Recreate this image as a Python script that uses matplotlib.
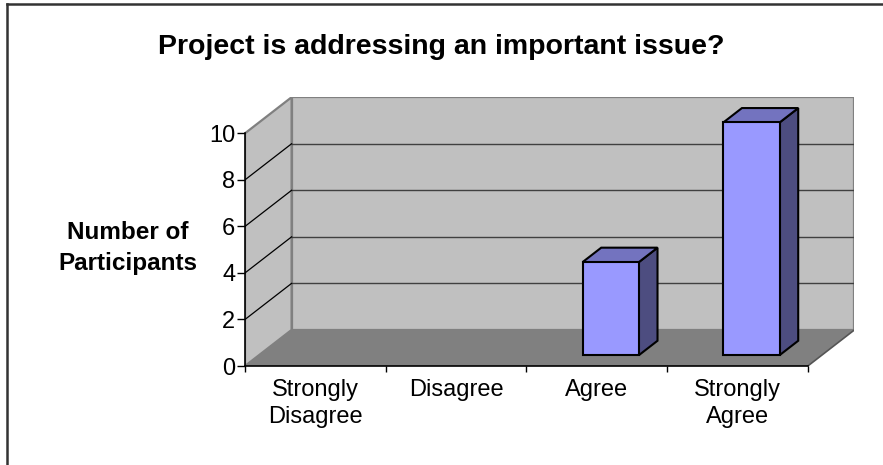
import matplotlib
matplotlib.use("Agg")
import matplotlib.pyplot as plt
from matplotlib.patches import Polygon
from matplotlib.lines import Line2D

plt.rcParams["font.family"] = ["Liberation Sans", "DejaVu Sans"]

# Survey data
categories = ["Strongly\nDisagree", "Disagree", "Agree", "Strongly\nAgree"]
counts = [0, 0, 4, 10]
y_ticks = [0, 2, 4, 6, 8, 10]
title = "Project is addressing an important issue?"
y_label = "Number of\nParticipants"

# oblique 3-D look: depth offset in data units
DX, DY = 0.331, 1.55
YMAX = 10
BAR_W = 0.4
D0, D1 = 0.3, 0.7

W, H = 883, 465
fig = plt.figure(figsize=(W / 100, H / 100), dpi=100)

x_left, x_right = 245, 854.4
y_zero = 366
px_per_unit = 23.27
y_top = y_zero - (YMAX + DY) * px_per_unit
ax = fig.add_axes([x_left / W, (H - y_zero) / H,
                   (x_right - x_left) / W, (y_zero - y_top) / H])
n = len(categories)
ax.set_xlim(0, n + DX)
ax.set_ylim(0, YMAX + DY)
for s in ax.spines.values():
    s.set_visible(False)
ax.patch.set_visible(False)

wall_c = "#C0C0C0"
floor_c = "#808080"
edge_c = "#808080"

# back wall, side wall, floor
ax.add_patch(Polygon([(DX, DY), (n + DX, DY), (n + DX, YMAX + DY), (DX, YMAX + DY)],
                     closed=True, facecolor=wall_c, edgecolor=edge_c, lw=1.6, zorder=1))
ax.add_patch(Polygon([(0, 0), (DX, DY), (DX, YMAX + DY), (0, YMAX)],
                     closed=True, facecolor=wall_c, edgecolor=edge_c, lw=1.6, zorder=1))
ax.add_patch(Polygon([(0, 0), (n, 0), (n + DX, DY), (DX, DY)],
                     closed=True, facecolor=floor_c, edgecolor="none", zorder=2))
ax.add_line(Line2D([n, n + DX], [0, DY], color="#555555", lw=1.2, zorder=2.5))

# gridlines on back and side walls
for v in y_ticks[1:-1]:
    ax.add_line(Line2D([DX, n + DX], [v + DY, v + DY], color="#404040", lw=1.0, zorder=1.5))
    ax.add_line(Line2D([0, DX], [v, v + DY], color="black", lw=0.9, zorder=1.5))

# bars as boxes
front_c = "#9999FF"
top_c = "#7373BF"
side_c = "#4D4D80"
for i, v in enumerate(counts):
    if v <= 0:
        continue
    x0 = i + 0.5 - BAR_W / 2
    x1 = i + 0.5 + BAR_W / 2
    ox0, oy0 = D0 * DX, D0 * DY
    ox1, oy1 = D1 * DX, D1 * DY
    kw = dict(closed=True, edgecolor="black", lw=1.5, joinstyle="miter", zorder=3)
    ax.add_patch(Polygon([(x1 + ox0, oy0), (x1 + ox1, oy1), (x1 + ox1, v + oy1), (x1 + ox0, v + oy0)],
                         facecolor=side_c, **kw))
    ax.add_patch(Polygon([(x0 + ox0, v + oy0), (x1 + ox0, v + oy0), (x1 + ox1, v + oy1), (x0 + ox1, v + oy1)],
                         facecolor=top_c, **kw))
    ax.add_patch(Polygon([(x0 + ox0, oy0), (x1 + ox0, oy0), (x1 + ox0, v + oy0), (x0 + ox0, v + oy0)],
                         facecolor=front_c, **kw))

# axis lines
ax.add_line(Line2D([0, 0], [0, YMAX], color="black", lw=1.2, zorder=4, clip_on=False))
ax.add_line(Line2D([0, n], [0, 0], color="black", lw=1.2, zorder=4, clip_on=False))

# ticks
ax.set_yticks(y_ticks)
ax.set_yticklabels([str(t) for t in y_ticks], fontsize=17)
ax.tick_params(axis="y", direction="out", length=5.5, width=1, pad=1.5, color="black")
ax.set_xticks(range(n + 1))
ax.set_xticklabels([])
ax.set_xticks([i + 0.5 for i in range(n)], minor=True)
ax.set_xticklabels(categories, minor=True, fontsize=17, linespacing=1.3)
ax.tick_params(axis="x", which="major", direction="out", length=4.5, width=1, color="black")
ax.tick_params(axis="x", which="minor", length=0, pad=9)

ax.set_ylabel(y_label, rotation=0, fontsize=17.5, fontweight="bold",
              ha="center", va="center", multialignment="center", linespacing=1.45)
ax.yaxis.set_label_coords((128 - x_left) / (x_right - x_left), (y_zero - 248) / (y_zero - y_top))

fig.text(441.5 / W, 1 - 46.5 / H, title, ha="center", va="center",
         fontsize=20.5, fontweight="bold")

# outer frame (left and top edges visible)
fig.add_artist(Line2D([7.5 / W, 7.5 / W], [0, 1 - 4.5 / H], transform=fig.transFigure,
                      color="#333333", lw=1.8))
fig.add_artist(Line2D([7.5 / W, 1], [1 - 4.5 / H, 1 - 4.5 / H], transform=fig.transFigure,
                      color="#333333", lw=1.8))

fig.savefig("out.png", dpi=100)
